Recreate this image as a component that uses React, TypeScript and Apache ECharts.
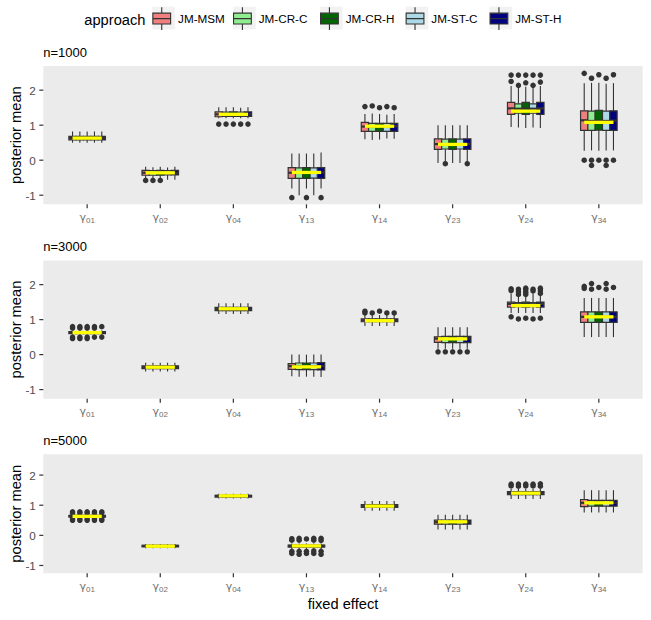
import React, { useEffect, useRef } from "react";
import * as echarts from "echarts";

const FONT = "'Liberation Sans', Arial, Helvetica, sans-serif";
const GREEK_FONT = "'DejaVu Sans', 'Liberation Sans', sans-serif";

const categories = ["01", "02", "04", "13", "14", "23", "24", "34"];
const approaches = ["JM-MSM", "JM-CR-C", "JM-CR-H", "JM-ST-C", "JM-ST-H"];
const approachColors = ["#F08080", "#90EE90", "#006400", "#ADD8E6", "#000080"];
const sampleSizes = ["n=1000", "n=3000", "n=5000"];
const yTicks = [-1, 0, 1, 2];
// true values (yellow reference lines), per fixed effect
const trueValues = [0.63, -0.36, 1.31, -0.35, 0.97, 0.45, 1.4, 1.08];

// box stats per fixed effect: [lower whisker, Q1, median, Q3, upper whisker]
// ---- n = 1000 ----
const box1000MSM = [
  [0.5, 0.58, 0.63, 0.68, 0.82],
  [-0.52, -0.43, -0.36, -0.29, -0.19],
  [1.2, 1.24, 1.31, 1.38, 1.51],
  [-0.81, -0.52, -0.36, -0.21, 0.19],
  [0.6, 0.82, 0.96, 1.08, 1.32],
  [-0.08, 0.31, 0.46, 0.61, 1.0],
  [0.95, 1.31, 1.48, 1.65, 2.12],
  [0.27, 0.85, 1.14, 1.41, 2.2],
];
const box1000CRC = [
  [0.5, 0.58, 0.63, 0.68, 0.82],
  [-0.52, -0.43, -0.36, -0.3, -0.2],
  [1.2, 1.25, 1.31, 1.37, 1.51],
  [-1.0, -0.52, -0.35, -0.22, 0.19],
  [0.58, 0.82, 0.96, 1.05, 1.33],
  [-0.06, 0.32, 0.45, 0.6, 1.0],
  [0.93, 1.34, 1.47, 1.61, 2.08],
  [0.28, 0.85, 1.12, 1.4, 2.21],
];
const box1000CRH = [
  [0.5, 0.58, 0.63, 0.68, 0.82],
  [-0.52, -0.43, -0.36, -0.29, -0.19],
  [1.2, 1.25, 1.31, 1.38, 1.51],
  [-0.81, -0.52, -0.35, -0.21, 0.19],
  [0.59, 0.82, 0.96, 1.05, 1.32],
  [-0.08, 0.31, 0.45, 0.61, 1.0],
  [0.92, 1.31, 1.48, 1.65, 2.1],
  [0.27, 0.86, 1.13, 1.42, 2.21],
];
const box1000STC = [
  [0.5, 0.58, 0.63, 0.68, 0.82],
  [-0.56, -0.42, -0.36, -0.3, -0.21],
  [1.2, 1.25, 1.31, 1.37, 1.5],
  [-1.0, -0.51, -0.35, -0.22, 0.19],
  [0.62, 0.82, 0.97, 1.05, 1.3],
  [-0.08, 0.32, 0.46, 0.6, 1.0],
  [0.93, 1.34, 1.47, 1.61, 2.08],
  [0.28, 0.85, 1.12, 1.4, 2.18],
];
const box1000STH = [
  [0.5, 0.58, 0.63, 0.68, 0.82],
  [-0.56, -0.42, -0.36, -0.29, -0.19],
  [1.2, 1.25, 1.31, 1.38, 1.51],
  [-0.81, -0.52, -0.35, -0.21, 0.22],
  [0.61, 0.82, 0.97, 1.05, 1.32],
  [-0.06, 0.31, 0.46, 0.61, 1.0],
  [0.92, 1.31, 1.48, 1.65, 2.12],
  [0.28, 0.85, 1.13, 1.41, 2.2],
];
// outliers: [fixed effect index, value]
const out1000MSM = [[1, -0.58], [2, 1.03], [3, -1.07], [4, 1.53], [6, 2.43], [6, 2.25], [7, 2.48], [7, 0.0]];
const out1000CRC = [[1, -0.58], [2, 1.03], [4, 1.55], [5, -0.1], [6, 2.43], [6, 2.14], [7, 2.34], [7, 0.0], [7, -0.15]];
const out1000CRH = [[1, -0.58], [2, 1.03], [3, -1.07], [4, 1.5], [6, 2.43], [6, 2.21], [7, 2.44], [7, 0.0]];
const out1000STC = [[2, 1.03], [4, 1.53], [6, 2.43], [6, 2.14], [7, 2.34], [7, 0.0], [7, -0.15]];
const out1000STH = [[2, 1.03], [3, -1.07], [4, 1.5], [5, -0.1], [6, 2.43], [6, 2.23], [7, 2.44], [7, 0.0]];

// ---- n = 3000 ----
const box3000MSM = [
  [0.57, 0.6, 0.63, 0.66, 0.69],
  [-0.48, -0.4, -0.36, -0.32, -0.23],
  [1.16, 1.26, 1.3, 1.35, 1.47],
  [-0.62, -0.42, -0.33, -0.26, 0.0],
  [0.82, 0.94, 0.98, 1.02, 1.13],
  [0.17, 0.35, 0.46, 0.51, 0.78],
  [1.19, 1.36, 1.45, 1.5, 1.75],
  [0.5, 0.92, 1.08, 1.22, 1.62],
];
const box3000CRC = [
  [0.57, 0.6, 0.63, 0.66, 0.69],
  [-0.48, -0.4, -0.36, -0.32, -0.23],
  [1.16, 1.26, 1.3, 1.35, 1.47],
  [-0.63, -0.43, -0.33, -0.24, 0.0],
  [0.82, 0.94, 0.98, 1.02, 1.13],
  [0.17, 0.34, 0.45, 0.52, 0.78],
  [1.19, 1.37, 1.44, 1.49, 1.75],
  [0.5, 0.92, 1.08, 1.22, 1.62],
];
const box3000CRH = [
  [0.57, 0.6, 0.63, 0.66, 0.69],
  [-0.48, -0.4, -0.36, -0.32, -0.23],
  [1.16, 1.26, 1.3, 1.35, 1.47],
  [-0.63, -0.43, -0.33, -0.24, 0.0],
  [0.82, 0.94, 0.98, 1.02, 1.13],
  [0.17, 0.34, 0.45, 0.52, 0.78],
  [1.19, 1.36, 1.44, 1.5, 1.75],
  [0.5, 0.92, 1.08, 1.22, 1.62],
];
const box3000STC = [
  [0.57, 0.6, 0.63, 0.66, 0.69],
  [-0.48, -0.4, -0.36, -0.32, -0.23],
  [1.16, 1.26, 1.3, 1.35, 1.47],
  [-0.63, -0.43, -0.33, -0.24, 0.0],
  [0.82, 0.94, 0.98, 1.02, 1.13],
  [0.17, 0.34, 0.45, 0.52, 0.78],
  [1.19, 1.37, 1.44, 1.49, 1.75],
  [0.5, 0.92, 1.08, 1.22, 1.62],
];
const box3000STH = [
  [0.57, 0.6, 0.63, 0.66, 0.69],
  [-0.48, -0.4, -0.36, -0.32, -0.23],
  [1.16, 1.26, 1.3, 1.35, 1.47],
  [-0.64, -0.44, -0.33, -0.23, 0.0],
  [0.82, 0.94, 0.98, 1.02, 1.13],
  [0.17, 0.34, 0.46, 0.52, 0.78],
  [1.19, 1.36, 1.45, 1.5, 1.75],
  [0.5, 0.92, 1.08, 1.22, 1.62],
];
const out3000MSM = [[0, 0.8], [0, 0.76], [0, 0.5], [0, 0.46], [4, 1.24], [4, 1.19], [5, 0.08], [6, 1.88], [6, 1.83], [6, 1.08], [7, 1.95], [7, 1.89]];
const out3000CRC = [[0, 0.8], [0, 0.76], [0, 0.5], [0, 0.46], [4, 1.19], [5, 0.08], [6, 1.87], [6, 1.8], [6, 1.72], [6, 1.02], [7, 2.03], [7, 1.87]];
const out3000CRH = [[0, 0.8], [0, 0.76], [0, 0.5], [0, 0.46], [4, 1.24], [5, 0.08], [6, 1.9], [6, 1.85], [6, 1.78], [6, 1.72], [6, 1.04], [7, 1.92]];
const out3000STC = [[0, 0.8], [0, 0.76], [0, 0.5], [4, 1.19], [5, 0.08], [6, 1.87], [6, 1.82], [6, 1.02], [7, 2.03], [7, 1.87]];
const out3000STH = [[0, 0.8], [0, 0.5], [4, 1.19], [5, 0.08], [6, 1.9], [6, 1.83], [6, 1.75], [6, 1.04], [7, 1.92]];

// ---- n = 5000 ----
const box5000MSM = [
  [0.57, 0.6, 0.64, 0.66, 0.69],
  [-0.43, -0.38, -0.35, -0.33, -0.29],
  [1.22, 1.27, 1.31, 1.33, 1.38],
  [-0.46, -0.39, -0.35, -0.32, -0.27],
  [0.82, 0.93, 0.98, 1.02, 1.14],
  [0.19, 0.37, 0.45, 0.51, 0.68],
  [1.21, 1.35, 1.41, 1.45, 1.54],
  [0.76, 0.95, 1.08, 1.19, 1.5],
];
const box5000CRC = [
  [0.57, 0.6, 0.64, 0.66, 0.69],
  [-0.43, -0.38, -0.35, -0.33, -0.29],
  [1.22, 1.27, 1.31, 1.33, 1.38],
  [-0.46, -0.39, -0.35, -0.32, -0.27],
  [0.82, 0.93, 0.98, 1.02, 1.14],
  [0.19, 0.37, 0.45, 0.51, 0.68],
  [1.21, 1.35, 1.41, 1.45, 1.54],
  [0.76, 0.97, 1.08, 1.16, 1.5],
];
const box5000CRH = [
  [0.57, 0.6, 0.64, 0.66, 0.69],
  [-0.43, -0.38, -0.35, -0.33, -0.29],
  [1.22, 1.27, 1.31, 1.33, 1.38],
  [-0.46, -0.39, -0.35, -0.32, -0.27],
  [0.82, 0.93, 0.98, 1.02, 1.14],
  [0.19, 0.37, 0.45, 0.51, 0.68],
  [1.21, 1.35, 1.41, 1.45, 1.54],
  [0.76, 0.97, 1.08, 1.16, 1.5],
];
const box5000STC = [
  [0.57, 0.6, 0.64, 0.66, 0.69],
  [-0.43, -0.38, -0.35, -0.33, -0.29],
  [1.22, 1.27, 1.31, 1.33, 1.38],
  [-0.46, -0.39, -0.35, -0.32, -0.27],
  [0.82, 0.93, 0.98, 1.02, 1.14],
  [0.19, 0.37, 0.45, 0.51, 0.68],
  [1.21, 1.35, 1.41, 1.45, 1.54],
  [0.76, 0.97, 1.08, 1.16, 1.5],
];
const box5000STH = [
  [0.57, 0.6, 0.64, 0.66, 0.69],
  [-0.43, -0.38, -0.35, -0.33, -0.29],
  [1.22, 1.27, 1.31, 1.33, 1.38],
  [-0.46, -0.39, -0.35, -0.32, -0.27],
  [0.82, 0.93, 0.98, 1.02, 1.14],
  [0.19, 0.37, 0.45, 0.51, 0.68],
  [1.21, 1.35, 1.41, 1.45, 1.54],
  [0.76, 0.97, 1.08, 1.16, 1.5],
];
const out5000MSM = [[0, 0.78], [0, 0.74], [0, 0.54], [0, 0.5], [3, -0.11], [3, -0.16], [3, -0.53], [3, -0.6], [6, 1.7], [6, 1.64]];
const out5000CRC = [[0, 0.78], [0, 0.74], [0, 0.54], [0, 0.5], [3, -0.1], [3, -0.16], [3, -0.53], [3, -0.63], [6, 1.7], [6, 1.63]];
const out5000CRH = [[0, 0.78], [0, 0.74], [0, 0.54], [0, 0.5], [3, -0.12], [3, -0.53], [3, -0.6], [6, 1.7], [6, 1.64]];
const out5000STC = [[0, 0.78], [0, 0.74], [0, 0.54], [0, 0.5], [3, -0.1], [3, -0.16], [3, -0.52], [3, -0.6], [6, 1.7], [6, 1.64]];
const out5000STH = [[0, 0.78], [0, 0.74], [0, 0.54], [0, 0.5], [3, -0.1], [3, -0.17], [3, -0.53], [3, -0.63], [6, 1.71], [6, 1.63]];

const panelBoxes = [
  [box1000MSM, box1000CRC, box1000CRH, box1000STC, box1000STH],
  [box3000MSM, box3000CRC, box3000CRH, box3000STC, box3000STH],
  [box5000MSM, box5000CRC, box5000CRH, box5000STC, box5000STH],
];
const panelOutliers = [
  [out1000MSM, out1000CRC, out1000CRH, out1000STC, out1000STH],
  [out3000MSM, out3000CRC, out3000CRH, out3000STC, out3000STH],
  [out5000MSM, out5000CRC, out5000CRH, out5000STC, out5000STH],
];

// ---- layout ----
const PANEL_LEFT = 43.3;
const PANEL_WIDTH = 599.4;
const panelTops = [66, 260.5, 454.3];
const panelHeights = [138.3, 138.2, 119];
const titleTops = [45.5, 240, 434];
const legendLefts = [152.3, 233, 320, 405.6, 489.5];
const X_MIN = -0.6;
const X_MAX = categories.length - 0.4;
const Y_MIN = -1.26;
const Y_MAX = 2.69;
const DODGE = 0.1; // width of one box in category units
const TICK_LEN = 4;
const TICK_W = 1.2;
const INK = "#333333";

const LEGEND_ICON =
  "path://M9,0 L9,6 M0,6 L18,6 L18,17 L0,17 Z M0,11.5 L18,11.5 M9,17 L9,23";

function boxRenderer(k: number, color: string) {
  const offset = (k - (approaches.length - 1) / 2) * DODGE;
  const half = DODGE / 2;
  return (params: any, api: any) => {
    const c = api.value(0) + offset;
    const lo = api.value(1);
    const q1 = api.value(2);
    const med = api.value(3);
    const q3 = api.value(4);
    const hi = api.value(5);
    const top = api.coord([c, hi]);
    const q3p = api.coord([c, q3]);
    const q1p = api.coord([c, q1]);
    const bot = api.coord([c, lo]);
    const bl = api.coord([c - half, q3]);
    const br = api.coord([c + half, q1]);
    const ml = api.coord([c - half, med]);
    const mr = api.coord([c + half, med]);
    return {
      type: "group",
      children: [
        { type: "line", shape: { x1: top[0], y1: top[1], x2: q3p[0], y2: q3p[1] }, style: { stroke: INK, lineWidth: 1.1 } },
        { type: "line", shape: { x1: q1p[0], y1: q1p[1], x2: bot[0], y2: bot[1] }, style: { stroke: INK, lineWidth: 1.1 } },
        {
          type: "rect",
          shape: { x: bl[0], y: bl[1], width: br[0] - bl[0], height: br[1] - bl[1] },
          style: { fill: color, stroke: INK, lineWidth: 1.2 },
        },
        { type: "line", shape: { x1: ml[0], y1: ml[1], x2: mr[0], y2: mr[1] }, style: { stroke: INK, lineWidth: 2.2 } },
      ],
    };
  };
}

function trueRenderer(params: any, api: any) {
  const i = api.value(0);
  const v = api.value(1);
  const span = ((approaches.length - 1) / 2) * DODGE;
  const a = api.coord([i - span, v]);
  const b = api.coord([i + span, v]);
  return {
    type: "line",
    shape: { x1: a[0], y1: a[1], x2: b[0], y2: b[1] },
    style: { stroke: "#FFFF00", lineWidth: 3.3 },
  };
}

function legendBackgrounds() {
  return legendLefts.map((x, k) => ({
    type: "rect",
    id: `keybg${k}`,
    left: x,
    top: 6.7,
    z: 1,
    shape: { width: 22.7, height: 22.7 },
    style: { fill: "#F2F2F2" },
    silent: true,
  }));
}

// linear maps equal to each grid's axis extents (value -> pixel)
function xPix(v: number) {
  return PANEL_LEFT + ((v - X_MIN) / (X_MAX - X_MIN)) * PANEL_WIDTH;
}
function yPix(p: number, v: number) {
  return panelTops[p] + ((Y_MAX - v) / (Y_MAX - Y_MIN)) * panelHeights[p];
}

// outside tick marks (axis decoration), drawn as thin filled rects
function tickGraphics() {
  const out: any[] = [];
  const tickIdx = categories.map((_, i) => i);
  panelTops.forEach((_, p) => {
    const bottom = panelTops[p] + panelHeights[p];
    tickIdx.forEach((i) => {
      const x = xPix(i);
      out.push({
        type: "rect",
        id: `xt${p}_${i}`,
        z: 10,
        silent: true,
        shape: { x: x - TICK_W / 2, y: bottom, width: TICK_W, height: TICK_LEN },
        style: { fill: INK },
      });
    });
    yTicks.forEach((v, j) => {
      const y = yPix(p, v);
      out.push({
        type: "rect",
        id: `yt${p}_${j}`,
        z: 10,
        silent: true,
        shape: { x: PANEL_LEFT - TICK_LEN, y: y - TICK_W / 2, width: TICK_LEN, height: TICK_W },
        style: { fill: INK },
      });
    });
  });
  return out;
}

function buildOption() {
  const tickIdx = categories.map((_, i) => i);
  const grid = panelTops.map((t, p) => ({
    left: PANEL_LEFT,
    top: t,
    width: PANEL_WIDTH,
    height: panelHeights[p],
    show: true,
    backgroundColor: "#EBEBEB",
    borderWidth: 0,
    containLabel: false,
    outerBoundsMode: "none",
  }));
  const xAxis = panelTops.map((_, p) => ({
    type: "value",
    gridIndex: p,
    position: "bottom",
    min: X_MIN,
    max: X_MAX,
    axisLine: { show: false, onZero: false },
    splitLine: { show: false },
    axisTick: { show: false },
    axisLabel: {
      customValues: tickIdx,
      margin: 6,
      formatter: (v: number) => `{g|γ}{s|${categories[Math.round(v)]}}`,
      rich: {
        g: { fontSize: 11, color: "#6E6E6E", fontFamily: GREEK_FONT, lineHeight: 14 },
        s: { fontSize: 8, color: "#6E6E6E", fontFamily: FONT, lineHeight: 7, verticalAlign: "bottom" },
      },
    },
    name: p === panelTops.length - 1 ? "fixed effect" : "",
    nameLocation: "middle",
    nameGap: 23,
    nameTextStyle: { fontSize: 14.67, color: "#000000", fontFamily: FONT },
  }));
  const yAxis = panelTops.map((_, p) => ({
    type: "value",
    gridIndex: p,
    position: "left",
    min: Y_MIN,
    max: Y_MAX,
    axisLine: { show: false, onZero: false },
    splitLine: { show: false },
    axisTick: { show: false },
    axisLabel: {
      customValues: yTicks,
      margin: 7.5,
      fontSize: 11.7,
      color: "#4D4D4D",
      fontFamily: FONT,
      formatter: (v: number) => String(Math.round(v)),
    },
    name: "posterior mean",
    nameLocation: "middle",
    nameGap: 20,
    nameMoveOverlap: false,
    nameTextStyle: { fontSize: 14.67, color: "#000000", fontFamily: FONT },
  }));

  const series: any[] = [];
  panelTops.forEach((_, p) => {
    approaches.forEach((name, k) => {
      series.push({
        type: "custom",
        name,
        xAxisIndex: p,
        yAxisIndex: p,
        itemStyle: { color: approachColors[k] },
        renderItem: boxRenderer(k, approachColors[k]),
        encode: { x: 0, y: [1, 2, 3, 4, 5] },
        data: panelBoxes[p][k].map((s, i) => [i, ...s]),
        z: 2,
        silent: true,
      });
    });
    approaches.forEach((_, k) => {
      const offset = (k - (approaches.length - 1) / 2) * DODGE;
      series.push({
        type: "scatter",
        xAxisIndex: p,
        yAxisIndex: p,
        symbol: "circle",
        symbolSize: 5.5,
        itemStyle: { color: INK, opacity: 1 },
        data: panelOutliers[p][k].map(([i, v]) => [i + offset, v]),
        z: 3,
        silent: true,
      });
    });
    series.push({
      type: "custom",
      xAxisIndex: p,
      yAxisIndex: p,
      renderItem: trueRenderer,
      encode: { x: 0, y: 1 },
      data: trueValues.map((v, i) => [i, v]),
      z: 4,
      silent: true,
    });
  });

  const title = [
    {
      text: "approach",
      left: 84.3,
      top: 12.5,
      padding: 0,
      textStyle: { fontSize: 14.67, fontWeight: "normal", color: "#000000", fontFamily: FONT, lineHeight: 15 },
    },
    ...sampleSizes.map((s, p) => ({
      text: s,
      left: PANEL_LEFT,
      top: titleTops[p],
      padding: 0,
      textStyle: { fontSize: 13, fontWeight: "normal", color: "#000000", fontFamily: FONT, lineHeight: 13 },
    })),
  ];

  const legend = approaches.map((name, k) => ({
    data: [name],
    left: legendLefts[k],
    top: 6.7,
    padding: 0,
    itemWidth: 22.7,
    itemHeight: 22.7,
    icon: LEGEND_ICON,
    itemStyle: { borderColor: INK, borderWidth: 1.1 },
    textStyle: { fontSize: 11.7, color: "#000000", fontFamily: FONT },
    selectedMode: false,
  }));

  return {
    animation: false,
    backgroundColor: "#FFFFFF",
    textStyle: { fontFamily: FONT },
    title,
    legend,
    graphic: [...legendBackgrounds(), ...tickGraphics()],
    grid,
    xAxis,
    yAxis,
    series,
  };
}

export default function App() {
  const ref = useRef<HTMLDivElement>(null);
  useEffect(() => {
    if (!ref.current) return;
    const chart = echarts.init(ref.current, null, { renderer: "svg" });
    chart.setOption(buildOption() as any);
    return () => chart.dispose();
  }, []);
  return (
    <div
      ref={ref}
      style={{ position: "absolute", left: 0, top: 0, width: 651, height: 620, background: "#fff" }}
    />
  );
}
